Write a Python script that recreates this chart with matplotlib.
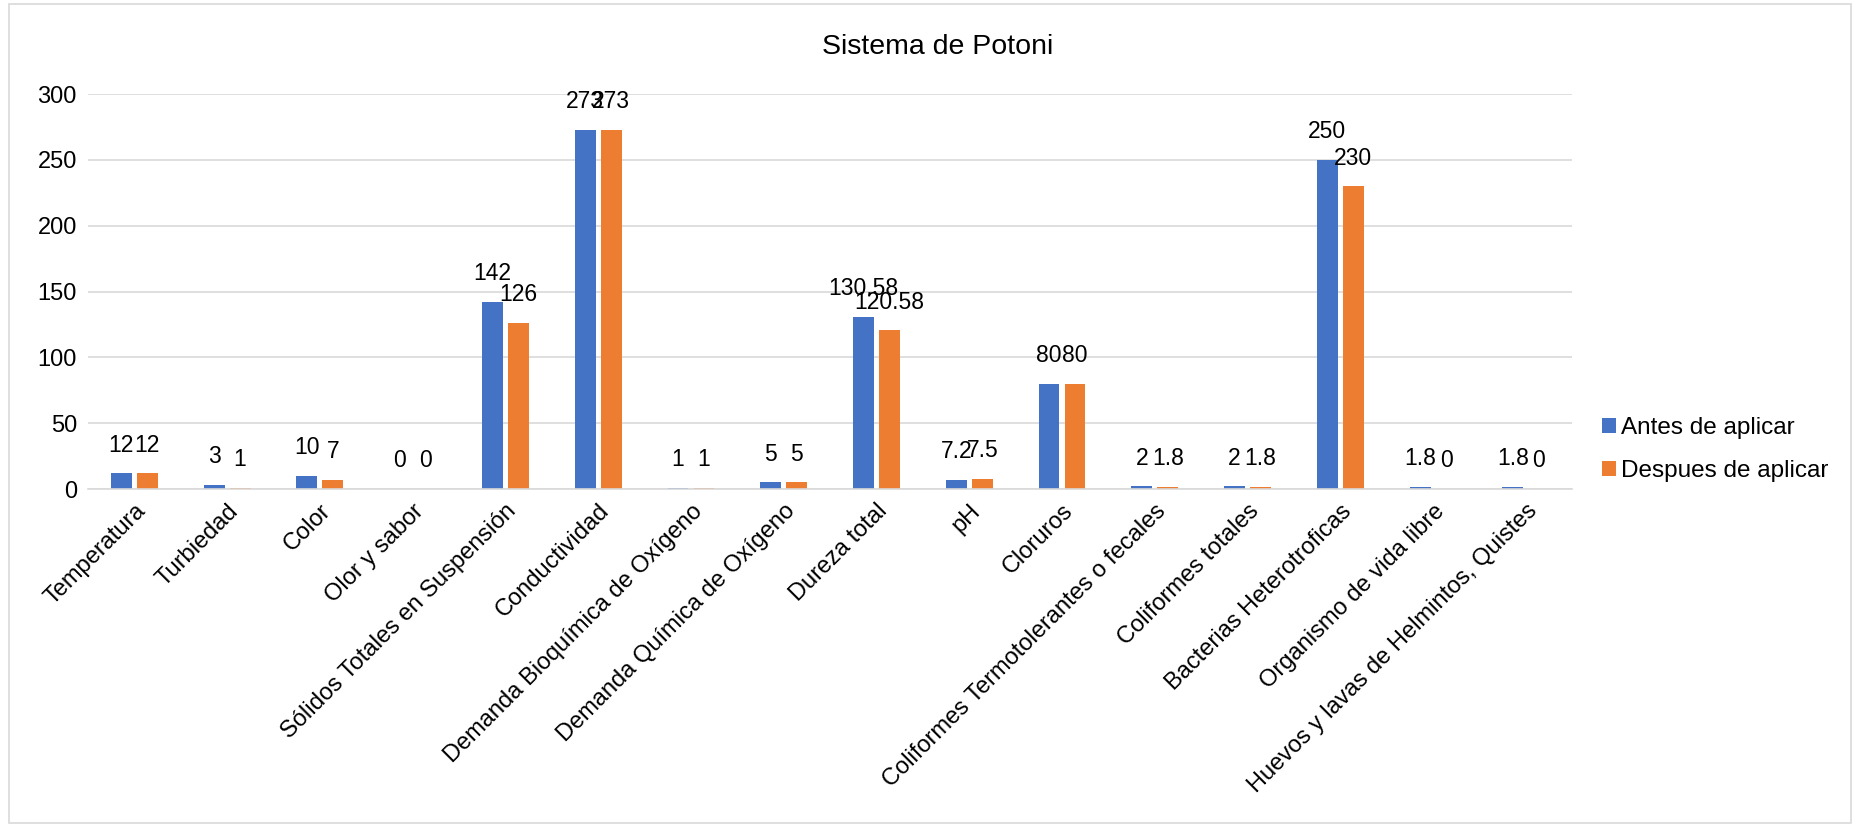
import numpy as np
import matplotlib
matplotlib.use("Agg")
import matplotlib.pyplot as plt
from matplotlib.patches import Rectangle

plt.rcParams["font.family"] = ["Liberation Sans", "DejaVu Sans"]

# ── data ──
categories = [
    "Temperatura", "Turbiedad", "Color", "Olor y sabor",
    "Sólidos Totales en Suspensión", "Conductividad",
    "Demanda Bioquímica de Oxígeno", "Demanda Química de Oxígeno",
    "Dureza total", "pH", "Cloruros",
    "Coliformes Termotolerantes o fecales", "Coliformes totales",
    "Bacterias Heterotroficas", "Organismo de vida libre",
    "Huevos y lavas de Helmintos, Quistes",
]
antes   = [12, 3, 10, 0, 142, 273, 1, 5, 130.58, 7.2, 80, 2, 2, 250, 1.8, 1.8]
despues = [12, 1, 7, 0, 126, 273, 1, 5, 120.58, 7.5, 80, 1.8, 1.8, 230, 0, 0]
series_names = ["Antes de aplicar", "Despues de aplicar"]
colors = ["#4472C4", "#ED7D31"]

fig = plt.figure(figsize=(18.6, 8.27), dpi=100)
ax = fig.add_axes([0.0473, 0.4087, 0.798, 0.4776])

# light border around the whole chart
fig.patches.append(Rectangle((0.005, 0.005), 0.99, 0.99, transform=fig.transFigure,
                             fill=False, edgecolor="#D9D9D9", lw=1.2))

x = np.arange(len(categories))
w = 0.225
gap = 0.055
b1 = ax.bar(x - w/2 - gap/2, antes, w, color=colors[0], label=series_names[0])
b2 = ax.bar(x + w/2 + gap/2, despues, w, color=colors[1], label=series_names[1])

def fmt(v):
    return f"{v:g}"

ax.bar_label(b1, labels=[fmt(v) for v in antes], padding=12, fontsize=16.5)
ax.bar_label(b2, labels=[fmt(v) for v in despues], padding=12, fontsize=16.5)

ax.set_ylim(0, 300)
ax.set_yticks(range(0, 301, 50))
ax.set_xlim(-0.5, len(categories) - 0.5)
ax.grid(axis="y", color="#D9D9D9", lw=1.2)
ax.set_axisbelow(True)
for s in ["top", "right", "left"]:
    ax.spines[s].set_visible(False)
ax.spines["bottom"].set_color("#D9D9D9")
ax.spines["bottom"].set_linewidth(1.2)
ax.tick_params(axis="both", length=0, labelsize=17, pad=8)

ax.set_xticks(x)
ax.set_xticklabels(categories, rotation=45, ha="right", rotation_mode="anchor")

fig.text(0.504, 0.943, "Sistema de Potoni", fontsize=20.5, ha="center", va="center")

ax.legend(loc="center left", bbox_to_anchor=(1.005, 0.1), frameon=False,
          fontsize=17.5, handlelength=0.6, handleheight=0.6, handletextpad=0.2,
          labelspacing=0.85)

fig.savefig("out.png", dpi=100)
